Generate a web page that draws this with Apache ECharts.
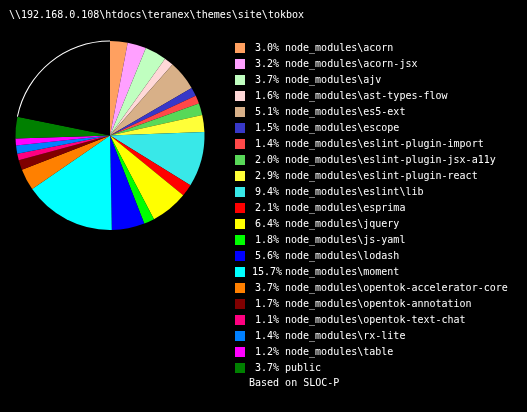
<!DOCTYPE html>
<html>
<head>
<meta charset="utf-8">
<script src="https://cdn.jsdelivr.net/npm/echarts@6/dist/echarts.min.js"></script>
<style>
  html, body { margin: 0; padding: 0; background: #000; }
  #chart { width: 527px; height: 412px; }
</style>
</head>
<body>
<div id="chart"></div>
<script>
// chart data (percent of SLOC)
var names = [
  "node_modules\\acorn",
  "node_modules\\acorn-jsx",
  "node_modules\\ajv",
  "node_modules\\ast-types-flow",
  "node_modules\\es5-ext",
  "node_modules\\escope",
  "node_modules\\eslint-plugin-import",
  "node_modules\\eslint-plugin-jsx-a11y",
  "node_modules\\eslint-plugin-react",
  "node_modules\\eslint\\lib",
  "node_modules\\esprima",
  "node_modules\\jquery",
  "node_modules\\js-yaml",
  "node_modules\\lodash",
  "node_modules\\moment",
  "node_modules\\opentok-accelerator-core",
  "node_modules\\opentok-annotation",
  "node_modules\\opentok-text-chat",
  "node_modules\\rx-lite",
  "node_modules\\table",
  "public"
];
var values = [3.0, 3.2, 3.7, 1.6, 5.1, 1.5, 1.4, 2.0, 2.9, 9.4, 2.1, 6.4, 1.8, 5.6, 15.7, 3.7, 1.7, 1.1, 1.4, 1.2, 3.7];
var colors = [
  "#ffa060", "#ffa0ff", "#c0ffc0", "#ffd8d8", "#d8b088", "#3838c8", "#ff4848",
  "#58d858", "#ffff38", "#38e8e8", "#ff0000", "#ffff00", "#00ff00", "#0000ff",
  "#00ffff", "#ff8000", "#800000", "#ff0080", "#0080ff", "#ff00ff", "#008000"
];
var otherName = "other";
var otherValue = 21.8;
var titleText = "\\\\192.168.0.108\\htdocs\\teranex\\themes\\site\\tokbox";
var footText = "Based on SLOC-P";

var font = "'DejaVu Sans Mono', monospace";

var chart = echarts.init(document.getElementById("chart"));

var pieData = [];
var arcData = [];
for (var i = 0; i < names.length; i++) {
  pieData.push({ name: names[i], value: values[i], itemStyle: { color: colors[i] } });
  arcData.push({ name: names[i] + "_arc", value: values[i], itemStyle: { color: "rgba(0,0,0,0)" } });
}
pieData.push({ name: otherName, value: otherValue, itemStyle: { color: "#000" } });
arcData.push({ name: otherName + "_arc", value: otherValue, itemStyle: { color: "#fff" } });

function pctOf(name) {
  var idx = names.indexOf(name);
  return values[idx].toFixed(1) + "%";
}

chart.setOption({
  backgroundColor: "#000",
  animation: false,
  title: {
    text: titleText,
    left: 4,
    top: 5,
    textStyle: { color: "#fff", fontFamily: font, fontSize: 10, fontWeight: "normal" }
  },
  legend: {
    orient: "vertical",
    left: 230,
    top: 35,
    data: names,
    icon: "rect",
    itemWidth: 10,
    itemHeight: 10,
    itemGap: 0,
    itemTextGap: 3,
    selectedMode: false,
    formatter: function (name) {
      return "{p|" + pctOf(name) + "}{n|" + name + "}";
    },
    textStyle: {
      color: "#fff",
      fontFamily: font,
      fontSize: 10,
      lineHeight: 16,
      rich: {
        p: { width: 34, align: "right", color: "#fff", fontFamily: font, fontSize: 10, lineHeight: 16 },
        n: { color: "#fff", fontFamily: font, fontSize: 10, lineHeight: 16, padding: [0, 0, 0, 1] }
      }
    }
  },
  graphic: [
    {
      type: "text",
      left: 249,
      top: 378,
      style: { text: footText, fill: "#fff", font: "10px " + font }
    }
  ],
  series: [
    {
      type: "pie",
      center: [110, 135.5],
      radius: [0, 94.5],
      startAngle: 90,
      clockwise: true,
      silent: true,
      label: { show: false },
      labelLine: { show: false },
      data: pieData
    },
    {
      type: "pie",
      center: [110, 135.5],
      radius: [94, 95],
      startAngle: 90,
      clockwise: true,
      silent: true,
      label: { show: false },
      labelLine: { show: false },
      data: arcData
    }
  ]
});
</script>
</body>
</html>
